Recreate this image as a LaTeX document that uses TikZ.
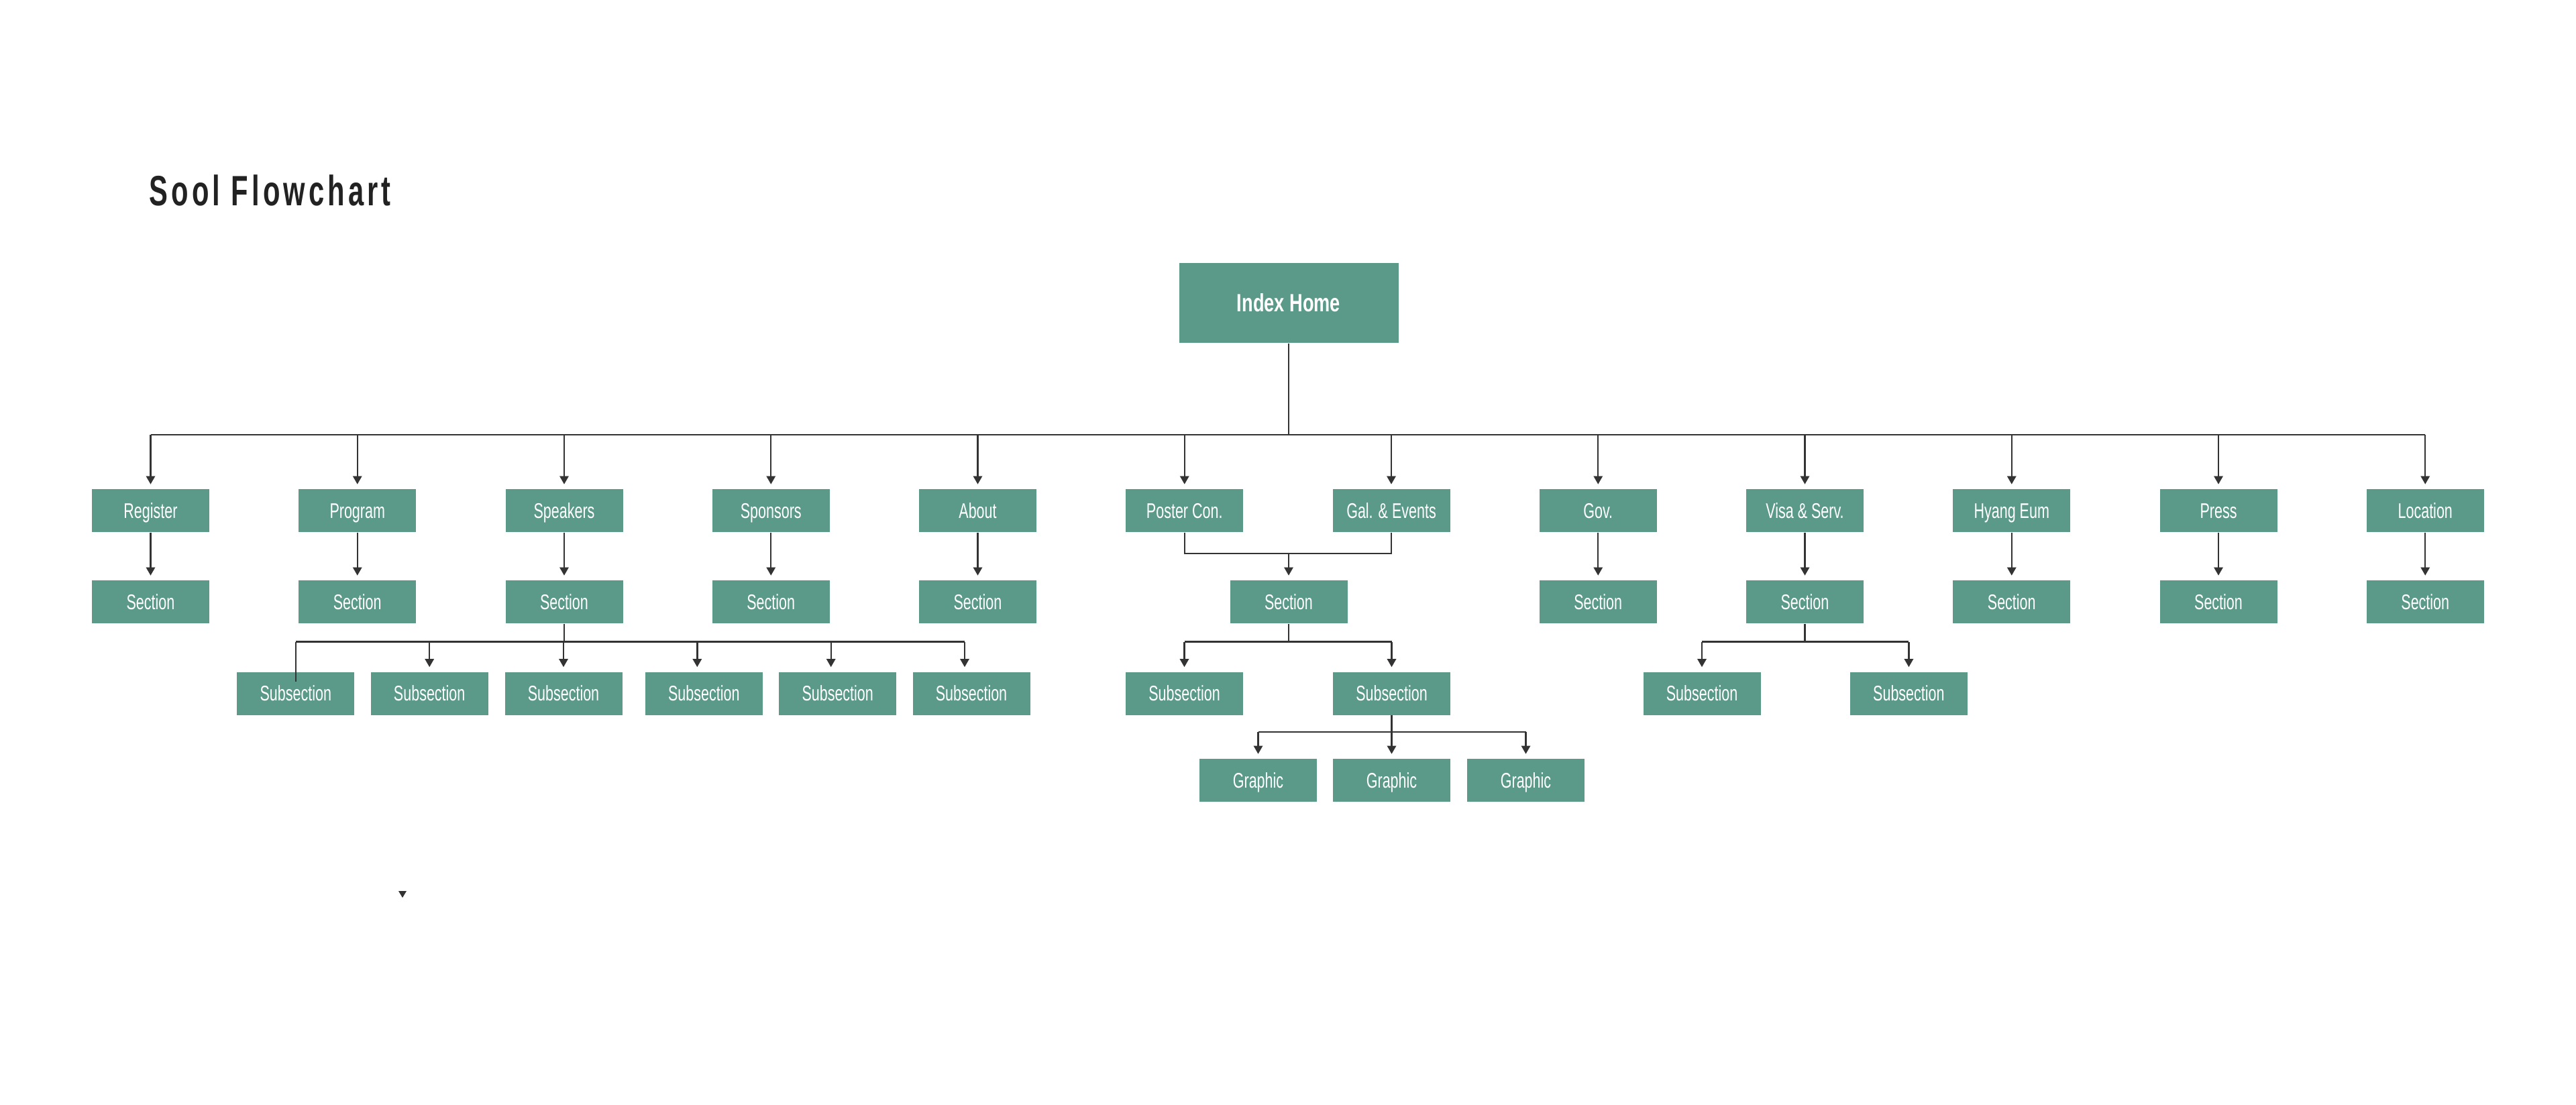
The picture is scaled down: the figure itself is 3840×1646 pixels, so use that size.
\documentclass[tikz,border=0pt]{standalone}
\usepackage{fontspec}
\setmainfont{Liberation Sans}
\newfontfamily\condfont[FakeStretch=0.68]{Liberation Sans}
\newfontfamily\condbold[FakeStretch=0.73]{Liberation Sans Bold}
\newfontfamily\titlefont[FakeStretch=0.66,LetterSpace=8]{Liberation Sans Bold}
\usetikzlibrary{arrows.meta}
\definecolor{boxteal}{HTML}{5B9A89}
\definecolor{linegray}{HTML}{333333}
\definecolor{titlegray}{HTML}{222222}
\begin{document}
\begin{tikzpicture}[x=0.1mm,y=-0.1mm,
  box/.style={fill=boxteal,text=white,minimum width=17.5mm,minimum height=6.4mm,inner sep=0pt,text height=6.45pt,text depth=0pt,font=\condfont\fontsize{9}{10}\selectfont},
  homebox/.style={fill=boxteal,text=white,minimum width=32.7mm,minimum height=11.9mm,inner sep=0pt,text height=7.6pt,text depth=0pt,font=\condbold\fontsize{10.6}{12}\selectfont},
  conn/.style={draw=linegray,line width=0.24mm},
  arr/.style={conn,-{Triangle[width=3.8pt,length=3.5pt]},shorten >=0.65mm}]
\useasboundingbox (0,0) rectangle (3840,1646);

% title
\node[anchor=base west,inner sep=0pt,text=titlegray,font=\titlefont\fontsize{18}{20}\selectfont] (title) at (222,306) {Sool Flowchart};

% root
\node[homebox] (home) at (1921,451.5) {Index Home};

% rows
\def\rowA{761}
\def\rowB{897}
\def\rowC{1033.5}
\def\rowD{1163}
\node[box] (reg)  at (224.5,\rowA) {Register};
\node[box] (prog) at (532.75,\rowA) {Program};
\node[box] (spk)  at (841,\rowA) {Speakers};
\node[box] (spo)  at (1149.25,\rowA) {Sponsors};
\node[box] (abt)  at (1457.5,\rowA) {About};
\node[box] (pos)  at (1765.75,\rowA) {Poster Con.};
\node[box] (gal)  at (2074,\rowA) {Gal. \& Events};
\node[box] (gov)  at (2382.25,\rowA) {Gov.};
\node[box] (visa) at (2690.5,\rowA) {Visa \& Serv.};
\node[box] (hya)  at (2998.75,\rowA) {Hyang Eum};
\node[box] (prs)  at (3307,\rowA) {Press};
\node[box] (loc)  at (3615.25,\rowA) {Location};

\node[box] (sreg)  at (224.5,\rowB) {Section};
\node[box] (sprog) at (532.75,\rowB) {Section};
\node[box] (sspk)  at (841,\rowB) {Section};
\node[box] (sspo)  at (1149.25,\rowB) {Section};
\node[box] (sabt)  at (1457.5,\rowB) {Section};
\node[box] (spg)   at (1921,\rowB) {Section};
\node[box] (sgov)  at (2382.25,\rowB) {Section};
\node[box] (svisa) at (2690.5,\rowB) {Section};
\node[box] (shya)  at (2998.75,\rowB) {Section};
\node[box] (sprs)  at (3307,\rowB) {Section};
\node[box] (sloc)  at (3615.25,\rowB) {Section};

\node[box] (k1) at (440.8,\rowC) {Subsection};
\node[box] (k2) at (640.2,\rowC) {Subsection};
\node[box] (k3) at (840,\rowC) {Subsection};
\node[box] (k4) at (1049.3,\rowC) {Subsection};
\node[box] (k5) at (1248.7,\rowC) {Subsection};
\node[box] (k6) at (1448,\rowC) {Subsection};

\node[box] (p1) at (1765.5,\rowC) {Subsection};
\node[box] (p2) at (2074.5,\rowC) {Subsection};

\node[box] (v1) at (2537,\rowC) {Subsection};
\node[box] (v2) at (2845.4,\rowC) {Subsection};

\node[box] (g1) at (1875.5,\rowD) {Graphic};
\node[box] (g2) at (2074.5,\rowD) {Graphic};
\node[box] (g3) at (2274.5,\rowD) {Graphic};

% ---- connectors ----
\coordinate (bus) at (0,648);
\draw[conn] (home.south) -- (home.south |- bus);
\draw[conn] (reg |- bus) -- (loc |- bus);
\foreach \n in {reg,prog,spk,spo,abt,pos,gal,gov,visa,hya,prs,loc}
  \draw[arr] (\n |- bus) -- (\n.north);

\foreach \a/\b in {reg/sreg,prog/sprog,spk/sspk,spo/sspo,abt/sabt,gov/sgov,visa/svisa,hya/shya,prs/sprs,loc/sloc}
  \draw[arr] (\a.south) -- (\b.north);

\coordinate (merge) at (0,825);
\draw[conn] (pos.south) -- (pos.south |- merge) -- (gal.south |- merge) -- (gal.south);
\draw[arr] (spg.north |- merge) -- (spg.north);

\coordinate (kbus) at (0,956.5);
\draw[conn] (sspk.south) -- (sspk.south |- kbus);
\draw[conn] (k1.north |- kbus) -- ([xshift=-1mm]k6.north |- kbus);
\draw[conn] (k1.north |- kbus) -- ([yshift=-1.55mm]k1.north);
\draw[arr] (k2.north |- kbus) -- (k2.north);
\draw[arr] (k3.north |- kbus) -- (k3.north);
\draw[arr] ([xshift=-1mm]k4.north |- kbus) -- ([xshift=-1mm]k4.north);
\draw[arr] ([xshift=-1mm]k5.north |- kbus) -- ([xshift=-1mm]k5.north);
\draw[arr] ([xshift=-1mm]k6.north |- kbus) -- ([xshift=-1mm]k6.north);

\draw[conn] (spg.south) -- (spg.south |- kbus);
\draw[conn] (p1.north |- kbus) -- (p2.north |- kbus);
\draw[arr] (p1.north |- kbus) -- (p1.north);
\draw[arr] (p2.north |- kbus) -- (p2.north);

\draw[conn] (svisa.south) -- (svisa.south |- kbus);
\draw[conn] (v1.north |- kbus) -- (v2.north |- kbus);
\draw[arr] (v1.north |- kbus) -- (v1.north);
\draw[arr] (v2.north |- kbus) -- (v2.north);

\coordinate (gbus) at (0,1091);
\draw[conn] (p2.south) -- (p2.south |- gbus);
\draw[conn] (g1.north |- gbus) -- (g3.north |- gbus);
\foreach \n in {g1,g2,g3}
  \draw[arr] (\n.north |- gbus) -- (\n.north);

% small marker
\fill[linegray] (594,1328) -- (606,1328) -- (600,1338) -- cycle;
\end{tikzpicture}
\end{document}
